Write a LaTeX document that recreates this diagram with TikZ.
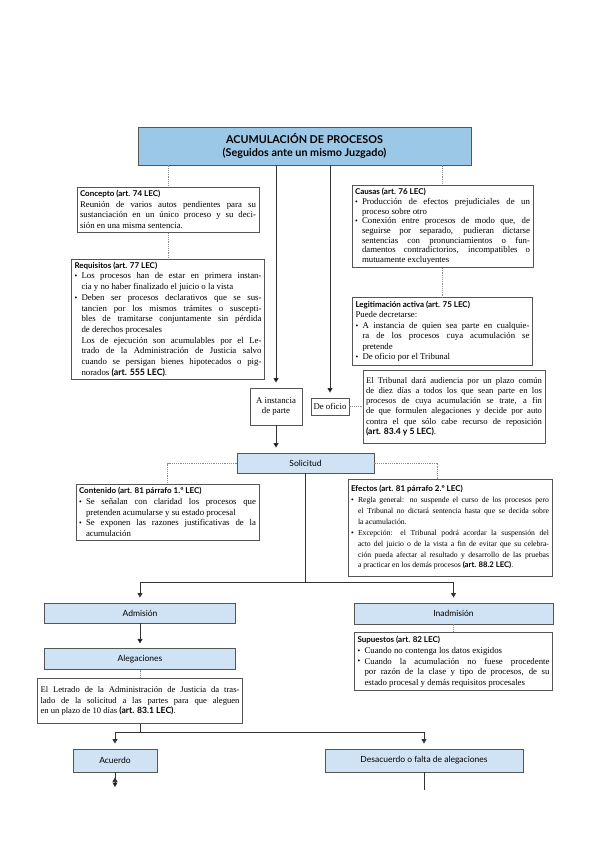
\documentclass[tikz,border=0pt]{standalone}
\usepackage{fontspec}
\setmainfont{Liberation Serif}
\newfontfamily\headfont{Lato}
\usetikzlibrary{arrows.meta,positioning}

\definecolor{azultitulo}{HTML}{9CC8E8}
\definecolor{azulclaro}{HTML}{CFE3F4}
\definecolor{borde}{HTML}{555555}
\definecolor{guiongris}{HTML}{8C8C8C}

\setlength{\parindent}{0pt}
\tolerance=9999
\hbadness=10000

\newcommand{\cabecera}[1]{{\headfont\bfseries\fontsize{8}{9.6}\selectfont #1}\par}
\newcommand{\punto}{\par\hangindent=7pt\hangafter=1\noindent\hbox to 7pt{\raisebox{0.2pt}{\fontsize{7.8}{6}\selectfont\textbullet}\hfil}}
\newcommand{\sigue}{\par\hangindent=7pt\hangafter=0\noindent}
\newcommand{\refart}[1]{{\headfont\bfseries #1}}

\begin{document}
\begin{tikzpicture}[
    x=1pt, y=-1pt,
    >={Triangle[width=5pt,length=4.5pt]},
    node distance=8pt,
    titulo/.style={
        draw=borde, line width=0.9pt, fill=azultitulo,
        minimum width=333pt, minimum height=38pt, align=center,
        font=\headfont\bfseries\fontsize{10.8}{13.5}\selectfont
    },
    fase/.style={
        draw=borde, line width=0.9pt, fill=azulclaro,
        minimum height=20pt, inner sep=0pt,
        font=\headfont\fontsize{8.5}{10}\selectfont
    },
    nota/.style={
        draw=borde, line width=1pt, fill=white, inner sep=3pt,
        align=justify, font=\fontsize{8.8}{10.4}\selectfont
    },
    caja/.style={
        draw=borde, line width=0.9pt, fill=white, inner sep=2.5pt,
        align=center, font=\fontsize{8.8}{10}\selectfont
    },
    flecha/.style={->, draw=black!80, line width=0.8pt, shorten >=5pt},
    linea/.style={draw=black!80, line width=0.8pt},
    guion/.style={draw=guiongris, line width=0.5pt, dash pattern=on 1.2pt off 1pt}
    ]
    \useasboundingbox (0,0) rectangle (599,848);

    % cabecera
    \node[titulo] (titulo) at (304.5,146) {ACUMULACIÓN DE PROCESOS\\(Seguidos ante un mismo Juzgado)};

    % columna izquierda
    \node[nota, text width=176pt, minimum height=45pt] (concepto) at (168,209.5) {
        \cabecera{Concepto (art. 74 LEC)}
        Reunión de varios autos pendientes para su\linebreak sustanciación en un único proceso y su deci-\linebreak sión en una misma sentencia.\par};
    \node[nota, text width=187pt, minimum height=119pt, font=\fontsize{8.8}{10.7}\selectfont, below=26pt of concepto] (requisitos) {
        \cabecera{Requisitos (art. 77 LEC)}
        \punto Los procesos han de estar en primera instan-\linebreak cia y no haber finalizado el juicio o la vista
        \punto Deben ser procesos declarativos que se sus-\linebreak tancien por los mismos trámites o suscepti-\linebreak bles de tramitarse conjuntamente sin pérdida\linebreak de derechos procesales
        \sigue Los de ejecución son acumulables por el Le-\linebreak trado de la Administración de Justicia salvo\linebreak cuando se persigan bienes hipotecados o pig-\linebreak norados \refart{(art. 555 LEC)}.\par};

    % columna derecha
    \node[nota, text width=175pt, minimum height=79pt, font=\fontsize{8.8}{9.7}\selectfont] (causas) at (442.5,226.5) {
        \cabecera{Causas (art. 76 LEC)}
        \punto Producción de efectos prejudiciales de un\linebreak proceso sobre otro
        \punto Conexión entre procesos de modo que, de\linebreak seguirse por separado, pudieran dictarse\linebreak sentencias con pronunciamientos o fun-\linebreak damentos contradictorios, incompatibles o\linebreak mutuamente excluyentes\par};
    \node[nota, text width=174pt, minimum height=68pt, font=\fontsize{8.8}{10.5}\selectfont, below=29pt of causas] (legitimacion) {
        \cabecera{Legitimación activa (art. 75 LEC)}
        Puede decretarse:
        \punto A instancia de quien sea parte en cualquie-\linebreak ra de los procesos cuya acumulación se\linebreak pretende
        \punto De oficio por el Tribunal\par};

    % iniciacion
    \node[caja, minimum width=52pt, minimum height=37pt] (instancia) at (276,406.5) {A instancia\\de parte};
    \node[caja, minimum height=17pt] (oficio) at (330,406.5) {De oficio};
    \node[nota, text width=176pt, minimum height=73pt, font=\fontsize{8.6}{10.2}\selectfont] (tribunal) at (454,406.5) {
        El Tribunal dará audiencia por un plazo común\linebreak de diez días a todos los que sean parte en los\linebreak procesos de cuya acumulación se trate, a fin\linebreak de que formulen alegaciones y decide por auto\linebreak contra el que sólo cabe recurso de reposición\linebreak \refart{(art. 83.4 y 5 LEC)}.\par};

    % solicitud
    \node[fase, minimum width=137pt] (solicitud) at (305.5,463) {Solicitud};
    \node[nota, text width=177pt, minimum height=56pt, font=\fontsize{8.8}{10.6}\selectfont] (contenido) at (167.5,512) {
        \cabecera{Contenido (art. 81 párrafo 1.º LEC)}
        \punto Se señalan con claridad los procesos que\linebreak pretenden acumularse y su estado procesal
        \punto Se exponen las razones justificativas de la\linebreak acumulación\par};
    \node[nota, text width=198pt, minimum height=97pt, font=\fontsize{7.7}{10.9}\selectfont] (efectos) at (450,527.5) {
        \cabecera{Efectos (art. 81 párrafo 2.º LEC)}
        \punto Regla general: no suspende el curso de los procesos pero\linebreak el Tribunal no dictará sentencia hasta que se decida sobre\linebreak la acumulación.
        \punto Excepción: el Tribunal podrá acordar la suspensión del\linebreak acto del juicio o de la vista a fin de evitar que su celebra-\linebreak ción pueda afectar al resultado y desarrollo de las pruebas\linebreak a practicar en los demás procesos \refart{(art. 88.2 LEC)}.\par};

    % admision / inadmision
    \node[fase, minimum width=191pt] (admision) at (140,613) {Admisión};
    \node[fase, minimum width=191pt, minimum height=21pt, below=25pt of admision] (alegaciones) {Alegaciones};
    \node[nota, text width=199pt, minimum height=45pt, font=\fontsize{8.6}{10.5}\selectfont, below=of alegaciones] (traslado) {
        El Letrado de la Administración de Justicia da tras-\linebreak lado de la solicitud a las partes para que aleguen\linebreak en un plazo de 10 días \refart{(art. 83.1 LEC)}.\par};
    \node[fase, minimum width=199pt, minimum height=21pt] (inadmision) at (453.5,613.5) {Inadmisión};
    \node[nota, text width=192pt, minimum height=58pt, font=\fontsize{8.8}{10.8}\selectfont, below=of inadmision] (supuestos) {
        \cabecera{Supuestos (art. 82 LEC)}
        \punto Cuando no contenga los datos exigidos
        \punto Cuando la acumulación no fuese procedente\linebreak por razón de la clase y tipo de procesos, de su\linebreak estado procesal y demás requisitos procesales\par};

    % final
    \node[fase, minimum width=84pt, minimum height=23pt] (acuerdo) at (115,760.5) {Acuerdo};
    \node[fase, minimum width=198pt, minimum height=23pt] (desacuerdo) at (424,760.5) {Desacuerdo o falta de alegaciones};

    \coordinate (rama) at (solicitud.south |- 0,582);
    \coordinate (rama2) at (alegaciones.south |- 0,732);
    \coordinate (finA) at (acuerdo.south |- 0,792);
    \coordinate (finD) at (desacuerdo.south |- 0,790);

    % conectores
    \path[guion]
        (concepto.north |- titulo.south) edge (concepto.north)
        (concepto.south) edge (concepto.south |- requisitos.north)
        (causas.north |- titulo.south) edge (causas.north)
        (causas.south) edge (causas.south |- legitimacion.north)
        (oficio.east) edge (tribunal.west)
        (alegaciones.south) edge (alegaciones.south |- traslado.north)
        (inadmision.south) edge (supuestos.north);
    \draw[guion] (solicitud.west) -| (contenido.north);
    \draw[guion] (solicitud.east) -| ([xshift=-13pt]efectos.north);

    \path[flecha]
        (instancia.north |- titulo.south) edge (instancia.north)
        (oficio.north |- titulo.south) edge (oficio.north)
        (instancia.south) edge (instancia.south |- solicitud.north)
        (admision.south) edge (alegaciones.north)
        (acuerdo.south) edge (finA);
    \draw[linea] (solicitud.south) -- (rama);
    \draw[flecha] (rama) -| (admision.north);
    \draw[flecha] (rama) -| (inadmision.north);
    \draw[linea] (traslado.south -| rama2) -- (rama2);
    \draw[flecha] (rama2) -| (acuerdo.north);
    \draw[flecha] (rama2) -| (desacuerdo.north);
    \draw[linea] (desacuerdo.south) -- (finD);
\end{tikzpicture}
\end{document}
